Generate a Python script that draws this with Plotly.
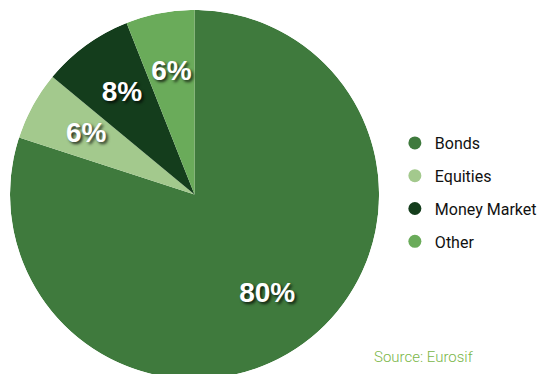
import plotly.graph_objects as go

categories = ["Bonds", "Equities", "Money Market", "Other"]
values = [80, 6, 8, 6]
colors = ["#3f7a3d", "#a3c98d", "#143d1c", "#6aab5a"]
source_text = "Source: Eurosif"

W, H = 542, 382
ml, mt = 10, 7
plot_w = W - ml
plot_h = H - mt
pie_dom = dict(x=[0, 374 / plot_w], y=[0, 1])

total = sum(values)
mid_angles, widths = [], []
cum = 0
for v in values:
    mid_angles.append((cum + v / 2) / total * 360)
    widths.append(v / total * 360)
    cum += v
labels_txt = [f"{round(v / total * 100)}%" for v in values]

fig = go.Figure()
fig.add_trace(go.Barpolar(
    r=[1] * len(values), theta=mid_angles, width=widths,
    marker=dict(color=colors, line=dict(width=0)),
    text=categories, hoverinfo="text", showlegend=False,
))
fig.add_trace(go.Scatterpolar(
    r=[0.67] * len(values), theta=mid_angles, mode="text", text=labels_txt,
    textposition="middle center", showlegend=False, hoverinfo="skip",
    textfont=dict(family="Liberation Sans", size=28, color="white", weight="bold",
                  shadow="2px 2px 3px rgba(0,0,0,0.75)"),
))
for c, col in zip(categories, colors):
    fig.add_trace(go.Scatter(
        x=[None], y=[None], mode="markers", name=c, legendgroup=c,
        marker=dict(symbol="circle", size=13, color=col), showlegend=True,
    ))
fig.update_layout(
    width=W, height=H, margin=dict(l=ml, r=0, t=mt, b=0),
    paper_bgcolor="white", plot_bgcolor="white",
    xaxis=dict(visible=False), yaxis=dict(visible=False),
    polar=dict(domain=pie_dom, bgcolor="rgba(0,0,0,0)", bargap=0,
               radialaxis=dict(visible=False, range=[0, 1]),
               angularaxis=dict(visible=False, direction="clockwise", rotation=90)),
    showlegend=True,
    legend=dict(x=(400 - ml) / plot_w, y=1 - (126 - mt) / plot_h, xanchor="left", yanchor="top",
                font=dict(family="Roboto", size=16, color="#111111"),
                tracegroupgap=9, bgcolor="rgba(0,0,0,0)"),
    annotations=[dict(text=source_text, xref="paper", yref="paper",
                      x=(377 - ml) / plot_w, y=1 - (357 - mt) / plot_h,
                      xanchor="left", yanchor="middle", showarrow=False,
                      font=dict(family="Roboto", size=15, weight=300, color="#7ab648"))],
)
fig.write_html("out.html")
